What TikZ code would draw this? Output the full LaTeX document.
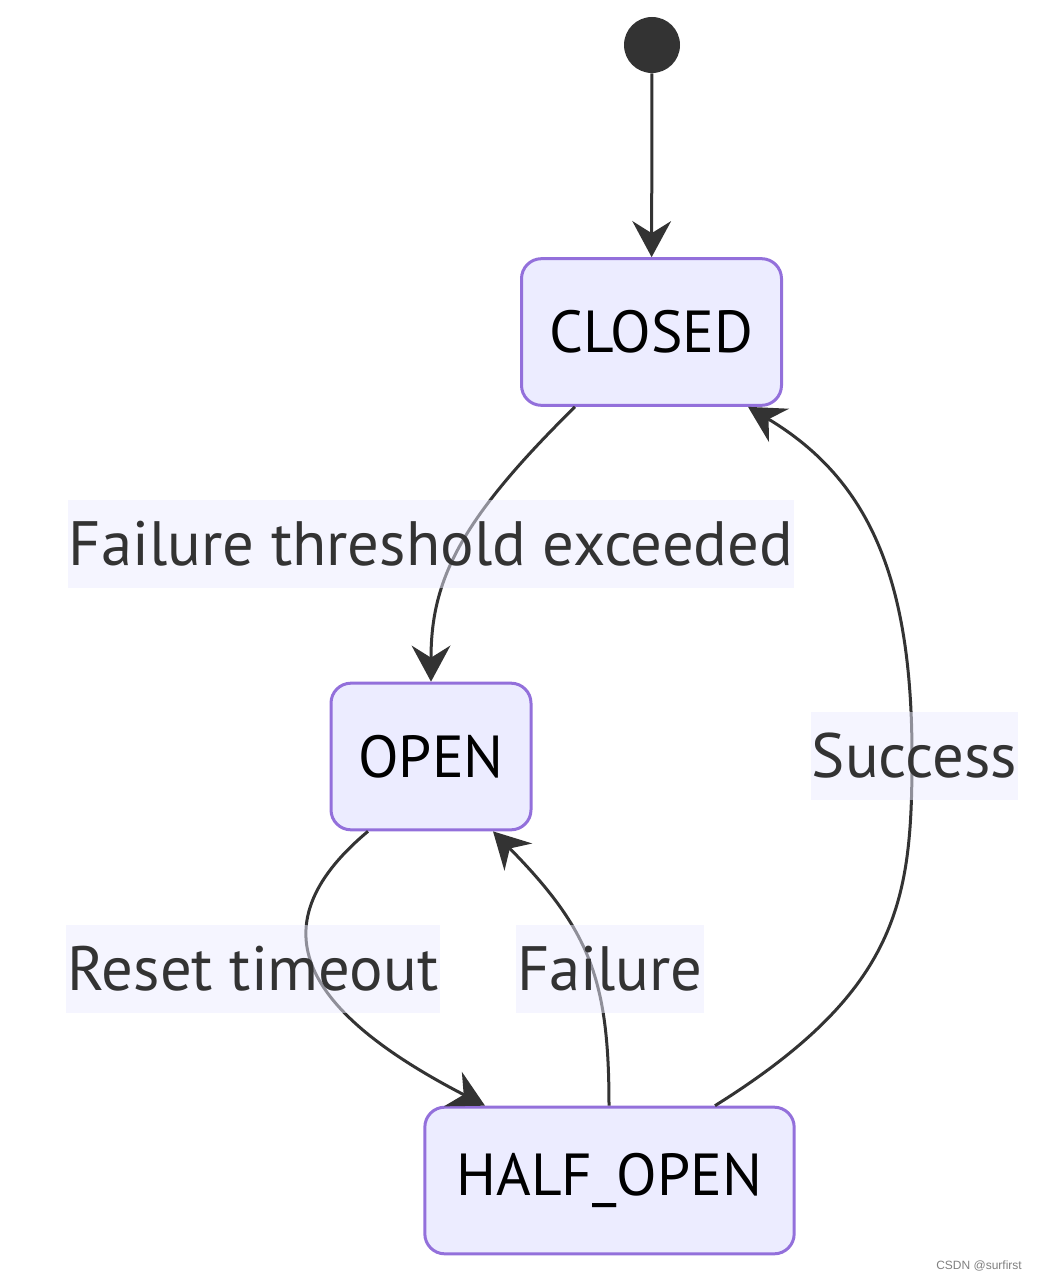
\documentclass[tikz,border=0pt]{standalone}
\usepackage{fontspec}
\setmainfont{PT Sans}
\newfontfamily\markfont{Liberation Sans}
\usetikzlibrary{arrows.meta,calc}

\definecolor{stateline}{HTML}{9370DB}
\definecolor{statefill}{HTML}{ECECFF}
\definecolor{edgeline}{HTML}{333333}

\tikzset{
    startdot/.style={circle, fill=edgeline, minimum size=42pt, inner sep=0pt},
    state/.style={draw=stateline, fill=statefill, line width=2.25pt, rounded corners=15pt,
        minimum height=110pt, text=black, font=\fontsize{44.5}{48}\selectfont},
    edge/.style={draw=edgeline, line width=2.25pt, -{Stealth[length=27pt, width=29pt, inset=9pt]}},
    edgelabel/.style={fill=statefill, fill opacity=0.5, text opacity=1, text=edgeline,
        inner xsep=1pt, inner ysep=0pt, minimum height=66pt, font=\fontsize{47}{50}\selectfont},
    watermark/.style={text=gray, font=\markfont\fontsize{9}{10}\selectfont}
}

\begin{document}
\begin{tikzpicture}[x=0.75pt, y=-0.75pt]
    \useasboundingbox (0,0) rectangle (1041,1281);

    % states
    \node[startdot] (start) at (652,45) {};
    \node[state, minimum width=195pt] (closed) at (651.5,332) {CLOSED};
    \node[state, minimum width=150pt] (open) at (431,756.5) {OPEN};
    \node[state, minimum width=277pt] (halfopen) at (609.5,1180.5) {HALF\_OPEN};

    % transitions
    \draw[edge] (start) -- (closed);
    \draw[edge] ($(closed.south)+(-76.5,0)$) .. controls (460,520) and (431,580) .. (open.north);
    \draw[edge] ($(open.south)+(-63,0)$) .. controls (250,930) and (310,1015) .. ($(halfopen.north)+(-124.5,0)$);
    \draw[edge] ($(halfopen.north)+(-0.5,0)$) .. controls (609,980) and (590,930) .. ($(open.south)+(62,0)$);
    \draw[edge] ($(halfopen.north)+(105.5,0)$) .. controls (900,990) and (912,900) .. (912,756)
        .. controls (912,580) and (870,480) .. ($(closed.south)+(96.5,0)$);

    % labels
    \node[edgelabel] (lblthreshold) at (431,544) {Failure threshold exceeded};
    \node[edgelabel] (lblsuccess) at (914.5,756) {Success};
    \node[edgelabel] (lblreset) at (253,969) {Reset timeout};
    \node[edgelabel] (lblfailure) at (610,969) {Failure};

    \node[watermark] (mark) at (979,1266) {CSDN @surfirst};
\end{tikzpicture}
\end{document}
